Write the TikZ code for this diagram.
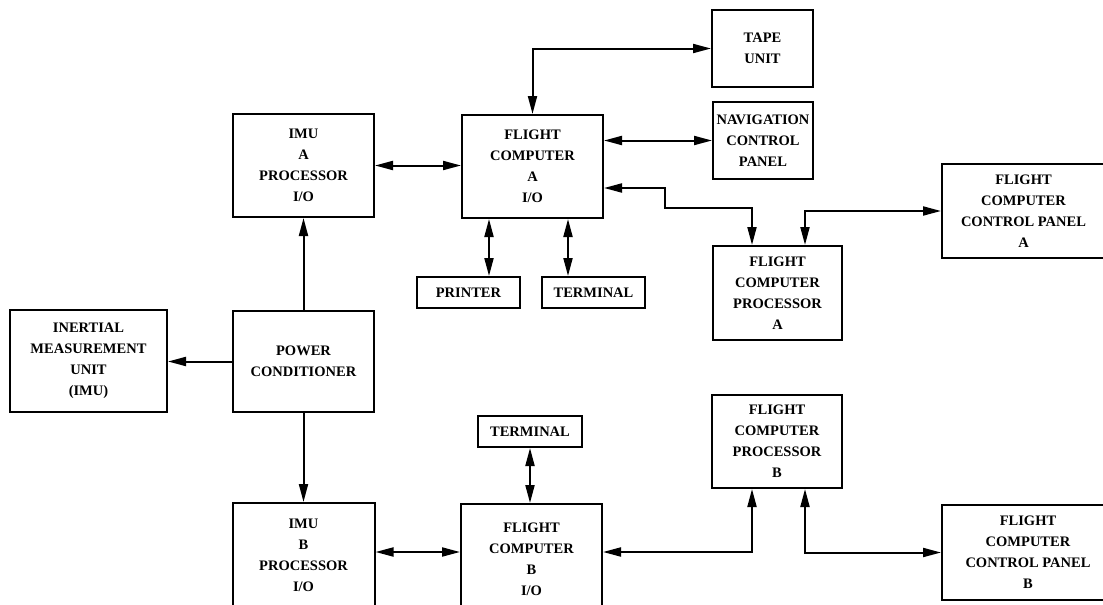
\documentclass[tikz,border=0pt]{standalone}
\usepackage{fontspec}
\setmainfont{Liberation Serif}
\usetikzlibrary{arrows.meta,calc}
\begin{document}
\begin{tikzpicture}[x=1pt,y=-1pt,
  box/.style={draw, line width=2pt, inner sep=0pt, align=center,
    font=\bfseries\fontsize{14.5}{21}\selectfont},
  conn/.style={line width=2pt},
  arr/.style={conn,-{Triangle[length=18pt,width=9pt]}},
  darr/.style={conn,{Triangle[length=18pt,width=9pt]}-{Triangle[length=18pt,width=9pt]}}]
\useasboundingbox (0,0) rectangle (1103,605);
\fill[white] (0,0) rectangle (1103,605);
\clip (0,0) rectangle (1103,605);
% boxes
\node[box, minimum width=101pt, minimum height=77pt] (tape) at (762.5,48.5) {TAPE\\UNIT};
\node[box, minimum width=100pt, minimum height=77pt] (nav) at (763,140.5) {NAVIGATION\\CONTROL\\PANEL};
\node[box, minimum width=141pt, minimum height=103pt] (fca) at (532.5,166.5) {FLIGHT\\COMPUTER\\A\\I/O};
\node[box, minimum width=141pt, minimum height=103pt] (imua) at (303.5,165.5) {IMU\\A\\PROCESSOR\\I/O};
\node[box, minimum width=157pt, minimum height=102pt] (imu) at (88.5,361) {INERTIAL\\MEASUREMENT\\UNIT\\(IMU)};
\node[box, minimum width=141pt, minimum height=101pt] (pc) at (303.5,361.5) {POWER\\CONDITIONER};
\node[box, minimum width=103pt, minimum height=31pt] (printer) at (468.5,292.5) {PRINTER};
\node[box, minimum width=103pt, minimum height=31pt] (terma) at (593.5,292.5) {TERMINAL};
\node[box, minimum width=129pt, minimum height=94pt] (fcpa) at (777.5,293) {FLIGHT\\COMPUTER\\PROCESSOR\\A};
\node[box, minimum width=163pt, minimum height=94pt] (fccpa) at (1023.5,211) {FLIGHT\\COMPUTER\\CONTROL PANEL\\A};
\node[box, minimum width=104pt, minimum height=31pt] (termb) at (530,431.5) {TERMINAL};
\node[box, minimum width=142pt, minimum height=104pt] (imub) at (303.5,555) {IMU\\B\\PROCESSOR\\I/O};
\node[box, minimum width=141pt, minimum height=110pt] (fcb) at (531.5,559) {FLIGHT\\COMPUTER\\B\\I/O};
\node[box, minimum width=130pt, minimum height=93pt] (fcpb) at (777,441.5) {FLIGHT\\COMPUTER\\PROCESSOR\\B};
\node[box, minimum width=172pt, minimum height=95pt] (fccpb) at (1028,552.5) {FLIGHT\\COMPUTER\\CONTROL PANEL\\B};
% connectors
\draw[darr] (fca.north) |- (tape.west);
\draw[darr] (fca.east |- nav.west) -- (nav.west);
\draw[darr] (fca.east |- 0,188) -- (665,188) -- (665,208) -- (752,208) -- (fcpa.north -| 752,0);
\draw[darr] ($(fcpa.north)+(27.5,0)$) |- (fccpa.west);
\draw[darr] (imua.east) -- (fca.west |- imua.east);
\draw[arr] (pc.north) -- (imua.south);
\draw[arr] (pc.west) -- (imu.east |- pc.west);
\draw[arr] (pc.south) -- (imub.north);
\draw[darr] (fca.south -| 489,0) -- ($(printer.north)+(20.5,0)$);
\draw[darr] (fca.south -| 568,0) -- ($(terma.north)+(-25.5,0)$);
\draw[darr] (termb.south) -- (fcb.north -| termb.south);
\draw[darr] (imub.east |- 0,552) -- (fcb.west |- 0,552);
\draw[darr] (fcb.east |- 0,552) -| (fcpb.south -| 752,0);
\draw[darr] ($(fcpb.south)+(28,0)$) |- (fccpb.west);
\end{tikzpicture}
\end{document}
